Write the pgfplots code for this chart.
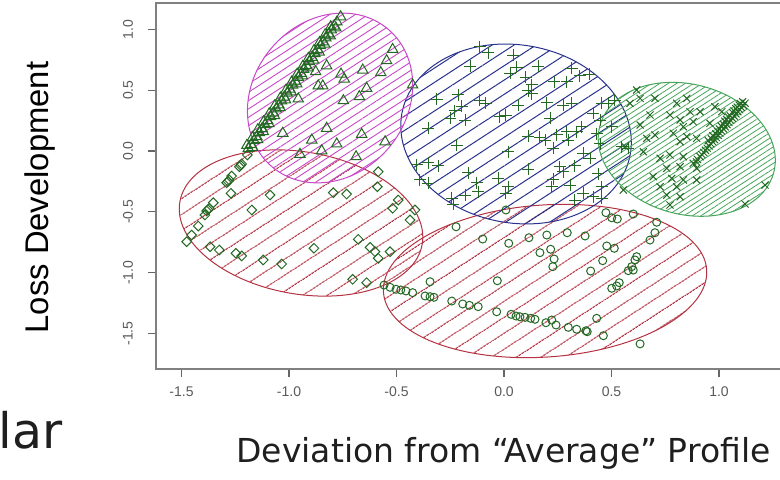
\documentclass[border=0pt]{standalone}
\usepackage{fontspec}
\setmainfont{Liberation Sans}
\newfontfamily\verd{DejaVu Sans}
\usepackage{pgfplots}
\pgfplotsset{compat=1.18}
\usetikzlibrary{patterns.meta}
\definecolor{ptgreen}{RGB}{35,105,35}
\definecolor{elmag}{RGB}{200,70,200}
\definecolor{elblue}{RGB}{40,50,140}
\definecolor{elgreen}{RGB}{70,165,90}
\definecolor{elred}{RGB}{180,50,65}
\definecolor{axgray}{RGB}{128,128,128}

\begin{document}
\begin{tikzpicture}
\begin{axis}[
  at={(0,0)}, anchor=south west,
  scale only axis, width=312pt, height=183pt,
  xmin=-1.6186, xmax=1.2837, ymin=-1.7928, ymax=1.2171,
  clip=false,
  axis line style={draw=none},
  xtick={-1.5,-1,-0.5,0,0.5,1},
  ytick={-1.5,-1,-0.5,0,0.5,1},
  tick pos=left, tick align=outside,
  major tick length=4pt,
  tick style={color=black!60, line width=0.6pt},
  /pgf/number format/assume math mode=true,
  /pgf/number format/fixed, /pgf/number format/fixed zerofill,
  /pgf/number format/precision=1,
  ticklabel style={font=\fontsize{7pt}{8pt}\selectfont, text=black!65},
  xticklabel style={anchor=center, yshift=-7.5pt},
  yticklabel style={xshift=-10pt, rotate=90, anchor=center},
  xlabel={\verd\fontsize{16.5pt}{19pt}\selectfont Deviation from “Average” Profile},
  xlabel style={at={(axis description cs:0.5569,-0.2541)}, anchor=base, text=black!88},
  ylabel={\fontsize{16.4pt}{18pt}\selectfont Loss Development},
  ylabel style={at={(axis description cs:-0.1724,0.4686)}, anchor=base},
]
% cluster ellipses with hatching
\draw[elred, line width=0.5pt, pattern={Lines[angle=33,distance=6.5pt,line width=0.5pt]}, pattern color=elred,
  rotate around={4:(axis cs:0.191,-1.069)}] (axis cs:0.191,-1.069) ellipse [x radius=81pt, y radius=38pt];
\draw[elred, line width=0.5pt, pattern={Lines[angle=33,distance=6.5pt,line width=0.5pt]}, pattern color=elred,
  rotate around={-10:(axis cs:-0.944,-0.592)}] (axis cs:-0.944,-0.592) ellipse [x radius=61.5pt, y radius=35.5pt];
\draw[elblue, line width=0.5pt, pattern={Lines[angle=33,distance=6pt,line width=0.5pt]}, pattern color=elblue,
  rotate around={-10:(axis cs:0.056,0.140)}] (axis cs:0.056,0.140) ellipse [x radius=58pt, y radius=44.5pt];
\draw[elmag, line width=0.5pt, pattern={Lines[angle=33,distance=3.5pt,line width=0.45pt]}, pattern color=elmag,
  rotate around={50:(axis cs:-0.809,0.436)}] (axis cs:-0.809,0.436) ellipse [x radius=45pt, y radius=38.5pt];
\draw[elgreen, line width=0.5pt, pattern={Lines[angle=33,distance=2.3pt,line width=0.4pt]}, pattern color=elgreen,
  rotate around={-15:(axis cs:0.850,0.014)}] (axis cs:0.850,0.014) ellipse [x radius=45pt, y radius=32.5pt];

% cluster 1: circles
\addplot[only marks, mark=o, mark size=2pt, color=ptgreen, mark options={line width=0.5pt}] table {
x y
-0.558 -1.102
-0.530 -1.121
-0.502 -1.137
-0.480 -1.143
-0.456 -1.151
-0.425 -1.165
-0.367 -1.192
-0.344 -1.198
-0.326 -1.203
-0.243 -1.234
-0.192 -1.258
-0.161 -1.269
-0.120 -1.280
-0.034 -1.322
0.033 -1.343
0.056 -1.357
0.074 -1.363
0.098 -1.368
0.124 -1.376
0.144 -1.384
0.195 -1.412
0.222 -1.390
0.242 -1.431
0.299 -1.450
0.338 -1.466
0.381 -1.478
0.387 -1.486
-0.223 -0.623
-0.099 -0.724
0.022 -0.759
0.116 -0.713
0.199 -0.691
0.294 -0.672
0.377 -0.699
0.009 -0.485
0.167 -0.836
0.217 -0.808
0.233 -0.888
0.227 -0.951
-0.344 -1.075
-0.031 -1.067
0.403 -0.987
0.459 -0.902
0.478 -0.781
0.513 -0.800
0.474 -0.507
0.501 -0.549
0.527 -0.559
0.601 -0.518
0.710 -0.586
0.702 -0.672
0.679 -0.732
0.617 -0.869
0.609 -0.896
0.594 -0.951
0.601 -0.979
0.578 -0.984
0.536 -1.083
0.524 -1.110
0.501 -1.129
0.431 -1.376
0.462 -1.519
0.633 -1.586
};

% cluster 2: triangles
\addplot[only marks, mark=triangle, mark size=3pt, color=ptgreen, mark options={line width=0.5pt}] table {
x y
-1.189 0.022
-1.176 0.054
-1.163 0.087
-1.150 0.119
-1.138 0.152
-1.125 0.184
-1.112 0.217
-1.099 0.249
-1.086 0.282
-1.073 0.314
-1.060 0.347
-1.047 0.379
-1.035 0.412
-1.022 0.444
-1.009 0.476
-0.996 0.509
-0.983 0.541
-0.970 0.574
-0.957 0.606
-0.944 0.639
-0.932 0.671
-0.919 0.704
-0.906 0.736
-0.893 0.769
-0.880 0.801
-0.867 0.834
-0.854 0.866
-0.842 0.898
-0.829 0.931
-0.816 0.963
-0.803 0.996
-0.790 1.028
-0.777 1.061
-0.760 1.104
-1.170 0.030
-1.146 0.094
-1.120 0.160
-1.094 0.226
-1.068 0.292
-1.042 0.356
-1.016 0.420
-0.990 0.486
-0.964 0.552
-0.938 0.618
-0.912 0.684
-0.886 0.748
-0.860 0.814
-0.834 0.880
-0.808 0.946
-0.782 1.012
-1.196 0.046
-1.170 0.110
-1.145 0.176
-1.118 0.240
-1.092 0.306
-1.066 0.372
-1.040 0.436
-1.014 0.500
-0.988 0.566
-0.962 0.632
-0.936 0.696
-0.910 0.762
-0.884 0.826
-0.858 0.892
-0.832 0.956
-0.806 1.022
-0.518 0.836
-0.546 0.743
-0.825 0.701
-0.876 0.652
-0.758 0.633
-0.743 0.592
-0.657 0.666
-0.573 0.644
-0.425 0.543
-0.639 0.516
-0.864 0.535
-0.843 0.535
-0.673 0.447
-0.747 0.414
-0.957 0.428
-0.825 0.187
-1.029 0.146
-0.894 0.090
-0.778 0.058
-0.662 0.137
-0.553 0.076
-0.848 0.002
-0.949 -0.027
-0.688 -0.047
};

% cluster 3: plus
\addplot[only marks, mark=+, mark size=3pt, color=ptgreen, mark options={line width=0.5pt}] table {
x y
-0.112 0.858
-0.073 0.808
0.043 0.789
-0.158 0.699
0.059 0.688
0.160 0.699
0.028 0.639
0.102 0.606
0.315 0.680
0.353 0.617
0.397 0.633
0.292 0.570
0.234 0.570
0.129 0.543
0.113 0.496
0.129 0.469
-0.313 0.425
-0.213 0.461
-0.112 0.419
-0.084 0.392
-0.197 0.370
-0.228 0.331
0.067 0.378
0.199 0.397
0.276 0.378
0.315 0.392
0.454 0.392
0.485 0.392
0.516 0.419
0.415 0.310
-0.251 0.269
-0.181 0.255
-0.019 0.282
0.009 0.296
0.214 0.269
-0.352 0.187
0.361 0.200
0.447 0.255
0.501 0.200
0.292 0.159
0.338 0.159
0.245 0.132
0.113 0.123
0.167 0.113
0.191 0.090
0.299 0.090
0.431 0.140
0.447 0.058
-0.220 0.049
0.020 -0.006
0.229 0.022
0.400 -0.060
-0.406 -0.115
-0.352 -0.096
-0.306 -0.123
0.113 -0.150
0.260 -0.129
0.330 -0.123
-0.166 -0.178
0.276 -0.170
0.439 -0.189
-0.391 -0.238
-0.352 -0.266
-0.127 -0.261
-0.027 -0.225
0.229 -0.233
0.020 -0.294
0.307 -0.280
0.454 -0.294
-0.181 -0.362
-0.120 -0.335
0.009 -0.348
0.369 -0.348
0.415 -0.376
-0.243 -0.389
-0.236 -0.436
0.330 -0.403
0.454 -0.389
0.222 -0.294
0.547 0.035
0.578 0.022
0.369 -0.019
};

% cluster 4: crosses
\addplot[only marks, mark=x, mark size=2.5pt, color=ptgreen, mark options={line width=0.5pt}] table {
x y
0.912 -0.047
0.920 -0.029
0.929 -0.012
0.937 0.006
0.945 0.023
0.954 0.041
0.962 0.059
0.971 0.076
0.979 0.094
0.987 0.111
0.996 0.129
1.004 0.147
1.012 0.164
1.021 0.182
1.029 0.199
1.037 0.217
1.046 0.235
1.054 0.252
1.062 0.270
1.071 0.287
1.079 0.305
1.088 0.323
1.096 0.340
1.104 0.358
1.113 0.375
1.121 0.393
0.965 0.100
0.985 0.140
1.002 0.180
1.020 0.220
1.035 0.260
1.052 0.290
1.070 0.330
1.085 0.360
1.100 0.390
0.950 0.085
0.972 0.125
0.992 0.165
1.010 0.205
1.027 0.245
1.044 0.280
1.062 0.318
1.078 0.348
1.094 0.378
1.110 0.405
0.900 -0.070
0.895 -0.090
0.617 0.502
0.633 0.433
0.586 0.392
0.803 0.392
0.850 0.433
0.981 0.364
1.013 0.323
0.912 0.323
0.865 0.323
0.772 0.296
0.819 0.255
0.880 0.241
0.834 0.200
0.958 0.228
0.679 0.296
0.633 0.214
0.702 0.132
0.664 0.104
0.787 0.146
0.850 0.118
0.896 0.104
0.819 0.076
0.563 0.035
0.648 -0.006
0.726 -0.060
0.772 -0.033
0.834 -0.047
0.880 -0.101
0.896 -0.142
0.819 -0.129
0.757 -0.142
0.694 -0.211
0.780 -0.225
0.834 -0.238
0.555 -0.321
0.726 -0.294
0.803 -0.294
0.757 -0.362
0.819 -0.376
0.772 -0.444
1.214 -0.280
1.121 -0.436
0.702 0.433
0.896 -0.238
};

% cluster 5: diamonds
\addplot[only marks, mark=square, mark size=1.7pt, color=ptgreen, mark options={rotate=45, line width=0.5pt}] table {
x y
-1.194 -0.033
-1.220 -0.107
-1.231 -0.129
-1.225 -0.118
-1.267 -0.206
-1.278 -0.238
-1.290 -0.261
-1.284 -0.250
-1.270 -0.348
-1.352 -0.425
-1.371 -0.471
-1.383 -0.493
-1.377 -0.482
-1.391 -0.526
-1.422 -0.617
-1.453 -0.691
-1.476 -0.746
-1.088 -0.362
-1.173 -0.485
-1.367 -0.787
-1.324 -0.814
-1.247 -0.841
-1.220 -0.863
-0.585 -0.170
-0.589 -0.294
-0.794 -0.343
-0.732 -0.354
-0.492 -0.403
-0.518 -0.471
-0.414 -0.485
-0.437 -0.567
-0.678 -0.726
-0.884 -0.800
-0.623 -0.792
-0.600 -0.828
-0.585 -0.882
-0.530 -0.828
-1.120 -0.896
-1.034 -0.929
-0.704 -1.055
-0.639 -1.083
};

% axis box, open on the right as in the cropped original
\draw[axgray, line width=1pt] (rel axis cs:1,1) -- (rel axis cs:0,1) -- (rel axis cs:0,0) -- (rel axis cs:1,0);
\end{axis}
\node[anchor=base west, inner sep=0pt, text=black!88] at (-78.8pt,-39.5pt) {\verd\fontsize{24.5pt}{28pt}\selectfont lar};
\pgfresetboundingbox
\path[use as bounding box] (-78pt,-55pt) rectangle (312pt,184.5pt);
\end{tikzpicture}
\end{document}
